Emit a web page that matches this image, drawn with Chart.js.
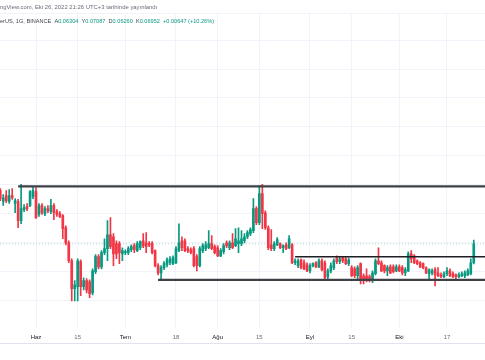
<!DOCTYPE html>
<html>
<head>
<meta charset="utf-8">
<script src="https://cdn.jsdelivr.net/npm/chart.js@4.4.0/dist/chart.umd.min.js"></script>
<style>
  html, body { margin: 0; padding: 0; background: #fff; }
  #wrap { position: relative; width: 485px; height: 360px; overflow: hidden; font-family: "Liberation Sans", Arial, sans-serif; }
  canvas { display: block; position: absolute; left: 0; top: 0; }
  #axisline { position: absolute; left: 0; top: 343px; width: 485px; height: 1px; background: #e0e3eb; }
  .hdr { position: absolute; left: 0; white-space: nowrap; line-height: 8px; }
  #h1 { top: 3px; color: #6a6d78; font-size: 5.9px; }
  #h2 { top: 17px; color: #434651; font-size: 5.6px; }
  #h2 .v { color: #089981; }
</style>
</head>
<body>
<div id="wrap">
  <canvas id="c" width="485" height="350"></canvas>
  <div id="axisline"></div>
  <div class="hdr" id="h1">ngView.com, Eki 26, 2022 21:26 UTC+3 tarihinde yayınlandı</div>
  <div class="hdr" id="h2"></div>
</div>
<script>
// daily candles, 2022-05-20 .. 2022-10-26
const firstDate = '2022-05-20';

const open = [
  0.0880, 0.0842, 0.0862, 0.0842, 0.0862, 0.0835, 0.0842, 0.0776, 0.0814, 0.0824,
  0.0828, 0.0859, 0.0876, 0.0797, 0.0828, 0.0800, 0.0817, 0.0807, 0.0828, 0.0807,
  0.0800, 0.0793, 0.0751, 0.0699, 0.0637, 0.0540, 0.0547, 0.0634, 0.0547, 0.0568,
  0.0564, 0.0526, 0.0599, 0.0651, 0.0616, 0.0665, 0.0679, 0.0727, 0.0720, 0.0696,
  0.0696, 0.0661, 0.0665, 0.0665, 0.0675, 0.0689, 0.0672, 0.0682, 0.0706, 0.0699,
  0.0696, 0.0696, 0.0672, 0.0620, 0.0595, 0.0613, 0.0623, 0.0630, 0.0627, 0.0630,
  0.0672, 0.0706, 0.0706, 0.0679, 0.0675, 0.0679, 0.0651, 0.0620, 0.0672, 0.0679,
  0.0682, 0.0696, 0.0686, 0.0682, 0.0654, 0.0668, 0.0699, 0.0682, 0.0699, 0.0689,
  0.0696, 0.0696, 0.0706, 0.0720, 0.0731, 0.0741, 0.0817, 0.0769, 0.0869, 0.0803,
  0.0751, 0.0692, 0.0679, 0.0692, 0.0696, 0.0682, 0.0692, 0.0682, 0.0692, 0.0630,
  0.0620, 0.0640, 0.0630, 0.0623, 0.0602, 0.0620, 0.0630, 0.0616, 0.0637, 0.0630,
  0.0582, 0.0602, 0.0613, 0.0647, 0.0634, 0.0647, 0.0644, 0.0627, 0.0613, 0.0609,
  0.0585, 0.0627, 0.0585, 0.0585, 0.0582, 0.0571, 0.0592, 0.0637, 0.0630, 0.0620,
  0.0602, 0.0616, 0.0616, 0.0602, 0.0616, 0.0613, 0.0595, 0.0602, 0.0661, 0.0654,
  0.0637, 0.0630, 0.0627, 0.0613, 0.0592, 0.0595, 0.0606, 0.0595, 0.0588, 0.0582,
  0.0592, 0.0602, 0.0592, 0.0588, 0.0582, 0.0585, 0.0585, 0.0588, 0.0592, 0.06304
];
const high = [
  0.0887, 0.0866, 0.0880, 0.0883, 0.0887, 0.0852, 0.0849, 0.0901, 0.0831, 0.0835,
  0.0880, 0.0894, 0.0890, 0.0835, 0.0835, 0.0824, 0.0828, 0.0849, 0.0835, 0.0814,
  0.0807, 0.0797, 0.0758, 0.0706, 0.0644, 0.0568, 0.0644, 0.0640, 0.0578, 0.0575,
  0.0571, 0.0609, 0.0658, 0.0658, 0.0672, 0.0713, 0.0776, 0.0786, 0.0731, 0.0706,
  0.0703, 0.0682, 0.0675, 0.0686, 0.0692, 0.0696, 0.0703, 0.0706, 0.0731, 0.0734,
  0.0703, 0.0703, 0.0675, 0.0627, 0.0620, 0.0634, 0.0647, 0.0651, 0.0654, 0.0686,
  0.0765, 0.0720, 0.0713, 0.0686, 0.0682, 0.0686, 0.0658, 0.0686, 0.0696, 0.0703,
  0.0741, 0.0724, 0.0692, 0.0689, 0.0679, 0.0696, 0.0706, 0.0706, 0.0731, 0.0748,
  0.0751, 0.0741, 0.0731, 0.0741, 0.0751, 0.0852, 0.0824, 0.0897, 0.0901, 0.0810,
  0.0758, 0.0745, 0.0703, 0.0717, 0.0699, 0.0692, 0.0699, 0.0724, 0.0696, 0.0644,
  0.0644, 0.0644, 0.0640, 0.0630, 0.0627, 0.0630, 0.0634, 0.0644, 0.0644, 0.0637,
  0.0609, 0.0630, 0.0644, 0.0654, 0.0651, 0.0651, 0.0651, 0.0647, 0.0620, 0.0616,
  0.0620, 0.0630, 0.0592, 0.0609, 0.0588, 0.0602, 0.0644, 0.0682, 0.0637, 0.0623,
  0.0620, 0.0623, 0.0623, 0.0623, 0.0623, 0.0620, 0.0613, 0.0668, 0.0672, 0.0658,
  0.0640, 0.0634, 0.0630, 0.0616, 0.0609, 0.0609, 0.0613, 0.0613, 0.0595, 0.0599,
  0.0613, 0.0609, 0.0599, 0.0592, 0.0595, 0.0599, 0.0602, 0.0609, 0.0644, 0.07087
];
const low = [
  0.0845, 0.0828, 0.0838, 0.0835, 0.0849, 0.0803, 0.0751, 0.0765, 0.0807, 0.0810,
  0.0824, 0.0852, 0.0783, 0.0790, 0.0797, 0.0793, 0.0803, 0.0800, 0.0779, 0.0790,
  0.0786, 0.0713, 0.0692, 0.0630, 0.0498, 0.0498, 0.0498, 0.0516, 0.0536, 0.0526,
  0.0509, 0.0519, 0.0592, 0.0609, 0.0609, 0.0658, 0.0637, 0.0679, 0.0620, 0.0644,
  0.0627, 0.0637, 0.0658, 0.0658, 0.0668, 0.0665, 0.0668, 0.0675, 0.0682, 0.0665,
  0.0686, 0.0661, 0.0616, 0.0588, 0.0571, 0.0606, 0.0616, 0.0623, 0.0623, 0.0627,
  0.0668, 0.0672, 0.0668, 0.0665, 0.0661, 0.0616, 0.0602, 0.0616, 0.0665, 0.0672,
  0.0679, 0.0675, 0.0661, 0.0651, 0.0651, 0.0661, 0.0682, 0.0675, 0.0679, 0.0686,
  0.0665, 0.0689, 0.0699, 0.0713, 0.0724, 0.0734, 0.0762, 0.0762, 0.0748, 0.0745,
  0.0675, 0.0672, 0.0672, 0.0689, 0.0679, 0.0665, 0.0675, 0.0679, 0.0627, 0.0623,
  0.0613, 0.0609, 0.0606, 0.0599, 0.0595, 0.0616, 0.0613, 0.0613, 0.0602, 0.0571,
  0.0571, 0.0595, 0.0606, 0.0627, 0.0627, 0.0630, 0.0623, 0.0620, 0.0582, 0.0578,
  0.0568, 0.0557, 0.0557, 0.0564, 0.0564, 0.0561, 0.0588, 0.0623, 0.0599, 0.0595,
  0.0585, 0.0592, 0.0595, 0.0599, 0.0599, 0.0588, 0.0585, 0.0599, 0.0630, 0.0627,
  0.0623, 0.0613, 0.0609, 0.0592, 0.0575, 0.0588, 0.0550, 0.0582, 0.0578, 0.0578,
  0.0585, 0.0582, 0.0578, 0.0571, 0.0578, 0.0582, 0.0578, 0.0585, 0.0588, 0.06260
];
const close = [
  0.0852, 0.0855, 0.0845, 0.0862, 0.0855, 0.0845, 0.0776, 0.0817, 0.0821, 0.0817,
  0.0876, 0.0880, 0.0786, 0.0828, 0.0803, 0.0817, 0.0810, 0.0828, 0.0803, 0.0797,
  0.0790, 0.0748, 0.0699, 0.0637, 0.0540, 0.0554, 0.0637, 0.0547, 0.0568, 0.0536,
  0.0523, 0.0602, 0.0651, 0.0616, 0.0665, 0.0679, 0.0727, 0.0686, 0.0661, 0.0661,
  0.0665, 0.0672, 0.0668, 0.0679, 0.0686, 0.0675, 0.0696, 0.0703, 0.0689, 0.0686,
  0.0692, 0.0665, 0.0620, 0.0595, 0.0613, 0.0627, 0.0640, 0.0644, 0.0647, 0.0679,
  0.0699, 0.0682, 0.0672, 0.0672, 0.0665, 0.0620, 0.0620, 0.0679, 0.0689, 0.0692,
  0.0696, 0.0679, 0.0665, 0.0654, 0.0672, 0.0689, 0.0689, 0.0699, 0.0682, 0.0713,
  0.0706, 0.0713, 0.0720, 0.0734, 0.0745, 0.0817, 0.0769, 0.0869, 0.0800, 0.0751,
  0.0682, 0.0679, 0.0696, 0.0710, 0.0682, 0.0689, 0.0679, 0.0713, 0.0630, 0.0637,
  0.0637, 0.0613, 0.0609, 0.0602, 0.0620, 0.0627, 0.0616, 0.0637, 0.0606, 0.0578,
  0.0602, 0.0620, 0.0637, 0.0634, 0.0644, 0.0637, 0.0627, 0.0640, 0.0585, 0.0585,
  0.0613, 0.0568, 0.0568, 0.0571, 0.0571, 0.0595, 0.0637, 0.0627, 0.0602, 0.0602,
  0.0613, 0.0595, 0.0599, 0.0616, 0.0602, 0.0595, 0.0606, 0.0661, 0.0644, 0.0630,
  0.0627, 0.0616, 0.0613, 0.0595, 0.0606, 0.0602, 0.0588, 0.0585, 0.0582, 0.0592,
  0.0602, 0.0585, 0.0582, 0.0582, 0.0588, 0.0592, 0.0595, 0.0602, 0.0630, 0.06952
];

// horizontal levels drawn on the chart
const levelValues = [0.0894, 0.0651, 0.0571];
const levelStart = ['2022-05-26', '2022-08-27', '2022-07-12'];

// time axis
const tickDates = ['2022-06-01', '2022-06-15', '2022-07-01', '2022-07-18', '2022-08-01',
                   '2022-08-15', '2022-09-01', '2022-09-15', '2022-10-01', '2022-10-17'];
const tickLabels = ['Haz', '15', 'Tem', '18', 'Ağu', '15', 'Eyl', '15', 'Eki', '17'];
const priceGrid = [0.05, 0.06, 0.07, 0.08, 0.09, 0.10, 0.11, 0.12, 0.13, 0.14];

const upColor = '#089981';
const downColor = '#f23645';
const dayMs = 86400000;
const origin = Date.UTC(2022, 5, 1);
const xMin = -12.09, xMax = 150.77;
const yMin = 0.0405, yMax = 0.1494;

function dayOf(s) {
  const p = s.split('-');
  return (Date.UTC(+p[0], +p[1] - 1, +p[2]) - origin) / dayMs;
}
const startDay = dayOf(firstDate);
const dates = open.map((_, i) => new Date(origin + (startDay + i) * dayMs).toISOString().slice(0, 10));

function candleColor(ctx) {
  const i = ctx.dataIndex;
  return close[i] >= open[i] ? upColor : downColor;
}

const li = close.length - 1;
document.getElementById('h2').innerHTML =
  'erUS, 1G, BINANCE&nbsp;&nbsp;A<span class="v">' + open[li].toFixed(5) + '</span>&nbsp;&nbsp;' +
  'Y<span class="v">' + high[li].toFixed(5) + '</span>&nbsp;&nbsp;' +
  'D<span class="v">' + low[li].toFixed(5) + '</span>&nbsp;&nbsp;' +
  'K<span class="v">' + close[li].toFixed(5) + '</span>&nbsp;&nbsp;' +
  '<span class="v">+0.00647 (+10.26%)</span>';

const datasets = [];
levelValues.forEach((v, k) => {
  datasets.push({
    type: 'line',
    data: [{ x: dayOf(levelStart[k]), y: v }, { x: xMax, y: v }],
    borderColor: k === 1 ? '#1e1f24' : '#3f4046',
    borderWidth: k === 1 ? 1.6 : 2.2,
    pointRadius: 0,
    order: 0
  });
});
datasets.push({
  type: 'line',
  data: [{ x: xMin, y: close[li] }, { x: xMax, y: close[li] }],
  borderColor: 'rgba(8,153,129,0.35)',
  borderWidth: 1,
  borderDash: [1, 2],
  pointRadius: 0,
  order: 3
});
// wicks
datasets.push({
  type: 'bar',
  data: dates.map((d, i) => ({ x: dayOf(d), y: [low[i], high[i]] })),
  backgroundColor: candleColor,
  barThickness: 1,
  grouped: false,
  order: 2
});
// bodies
datasets.push({
  type: 'bar',
  data: dates.map((d, i) => ({ x: dayOf(d), y: [open[i], close[i]] })),
  backgroundColor: candleColor,
  barThickness: 2,
  minBarLength: 1,
  grouped: false,
  order: 1
});

new Chart(document.getElementById('c'), {
  type: 'bar',
  data: { datasets: datasets },
  options: {
    responsive: false,
    animation: false,
    devicePixelRatio: 1,
    layout: { padding: { top: 13, bottom: 3, left: 0, right: 0 } },
    plugins: { legend: { display: false }, tooltip: { enabled: false } },
    scales: {
      x: {
        type: 'linear',
        min: xMin,
        max: xMax,
        offset: false,
        afterBuildTicks: (axis) => { axis.ticks = tickDates.map(d => ({ value: dayOf(d) })); },
        ticks: {
          autoSkip: false,
          maxRotation: 0,
          padding: 6,
          font: { family: '"Liberation Sans", Arial, sans-serif', size: 6 },
          color: (ctx) => isNaN(tickLabels[ctx.index]) ? '#131722' : '#6a6d78',
          callback: (value, index) => tickLabels[index]
        },
        grid: { color: '#f0f3fa', drawTicks: false, offset: false },
        border: { display: false }
      },
      y: {
        min: yMin,
        max: yMax,
        afterBuildTicks: (axis) => { axis.ticks = priceGrid.concat([yMax]).map(v => ({ value: v })); },
        ticks: { display: false },
        grid: { color: '#f0f3fa', drawTicks: false },
        border: { display: false }
      }
    }
  }
});
</script>
</body>
</html>
